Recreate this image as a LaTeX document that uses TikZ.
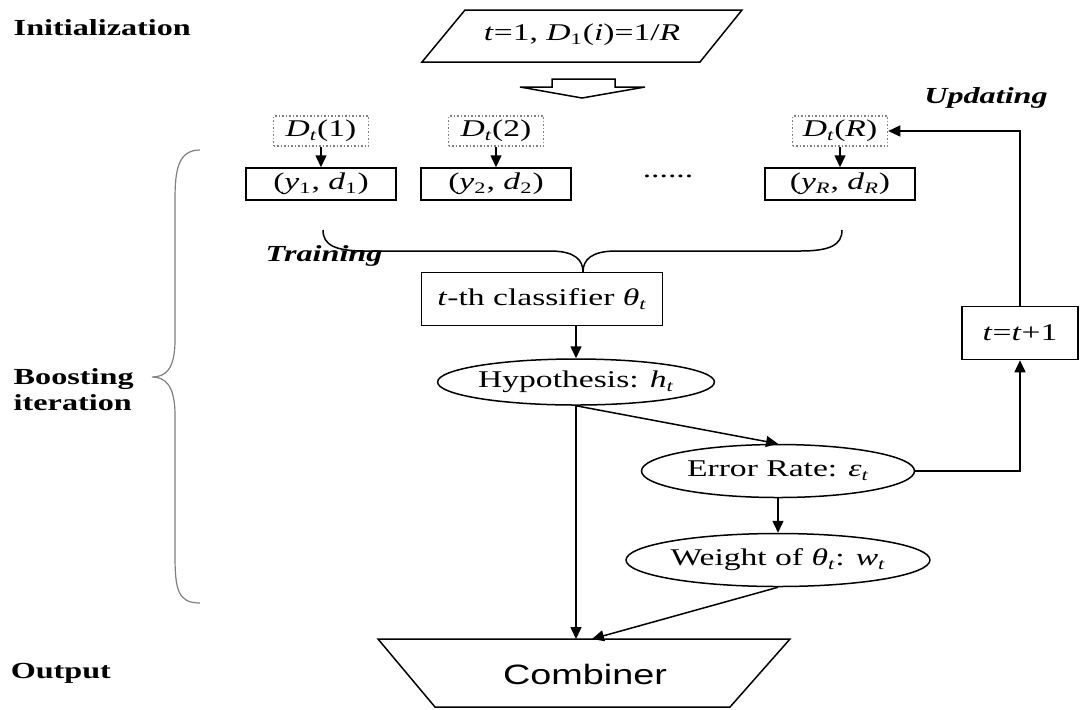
\documentclass[tikz,border=0pt]{standalone}
\usepackage{fontspec}
\setmainfont[FakeStretch=1.4]{Liberation Serif}
\setsansfont[FakeStretch=1.35]{Liberation Sans}
\usetikzlibrary{arrows.meta,shapes.geometric}

\begin{document}
\begin{tikzpicture}[x=0.5pt,y=-0.5pt,
    font=\fontsize{12}{14}\selectfont, line width=0.75pt,
    >={Triangle[length=6pt,width=5.5pt]},
    distbox/.style={draw=gray, densely dotted, text=black, minimum width=47.5pt, minimum height=15pt, inner sep=0pt},
    pairbox/.style={draw, minimum width=75pt, minimum height=16pt, inner sep=0pt},
    oval/.style={draw, ellipse, minimum width=136.5pt, minimum height=26.5pt, inner sep=0pt},
    stage/.style={font=\fontsize{11.5}{13}\selectfont\bfseries, anchor=west, align=left, inner sep=0pt}]

    \useasboundingbox (0,0) rectangle (1087,709);

    % stage names on the left
    \node[stage] (lbinit) at (13,28) {Initialization};
    \node[stage] (lbboost) at (13,390) {Boosting\\iteration};
    \node[stage] (lbout) at (10,673) {Output};

    % initialization
    \draw (465,10) -- (742,10) -- (700,62) -- (422,62) -- cycle;
    \node (init) at (582,35) {\textit{t}=1, \textit{D}\textsubscript{1}(\textit{i})=1/\textit{R}};
    \draw (552,79) -- (615,79) -- (615,87) -- (645,87) -- (582,98) -- (520,87) -- (552,87) -- cycle;

    % weighted samples
    \foreach \i/\x/\k in {1/321/1, 2/496/2, R/840/\textit{R}} {
        \node[distbox] (dist\i) at (\x,131) {\textit{D\textsubscript{t}}(\k)};
        \node[pairbox] (pair\i) at (\x,184) {(\textit{y}\textsubscript{\k}, \textit{d}\textsubscript{\k})};
        \draw[->] (dist\i) -- (pair\i);
    }
    \node (dots) at (668,176) {......};

    \draw (323,230) .. controls (323,245) and (335,251) .. (365,251) -- (550,251)
        .. controls (575,251) and (583,260) .. (583,272) .. controls (583,260) and (591,251) .. (616,251)
        -- (800,251) .. controls (830,251) and (842,245) .. (842,230);
    \node[font=\fontsize{11.5}{13}\selectfont\bfseries\itshape] (lbtrain) at (324,256) {Training};
    \node[font=\fontsize{11.5}{13}\selectfont\bfseries\itshape] (lbupd) at (986,98) {Updating};

    % boosting loop
    \node[draw, minimum width=120.5pt, minimum height=26.5pt] (clf) at (542,299) {\textit{t}-th classifier \textit{θ\textsubscript{t}}};
    \node[oval, minimum width=125pt, minimum height=23pt] (hyp) at (576,382) {Hypothesis: \textit{h\textsubscript{t}}};
    \node[oval] (err) at (778,471) {Error Rate: \textit{ε\textsubscript{t}}};
    \node[oval] (wgt) at (778,560) {Weight of \textit{θ\textsubscript{t}}: \textit{w\textsubscript{t}}};
    \node[draw, minimum width=58pt, minimum height=26.5pt] (upd) at (1020,333) {\textit{t}=\textit{t}+1};

    \draw[gray, line width=0.6pt] (200,150) .. controls (178,150) and (175,170) .. (175,200) -- (175,340)
        .. controls (175,370) and (165,377) .. (152,377) .. controls (165,377) and (175,385) .. (175,415)
        -- (175,555) .. controls (175,590) and (178,603) .. (200,603);

    % output
    \draw (378,639) -- (790,639) -- (730,707) -- (435,707) -- cycle;
    \node[font=\fontsize{14}{16}\selectfont\sffamily] (comb) at (585,674) {Combiner};
    \coordinate (ctop) at (592,639);

    \draw[->] (hyp.north |- clf.south) -- (hyp.north);
    \draw[->] (hyp.south) -- (err.north);
    \draw[->] (err) -- (wgt);
    \draw[->] (hyp.south) -- (hyp.south |- ctop);
    \draw[->] (wgt.south) -- (ctop);
    \draw[->] (err.east) -| (upd.south);
    \draw[->] (upd.north) |- (distR.east);

\end{tikzpicture}
\end{document}
